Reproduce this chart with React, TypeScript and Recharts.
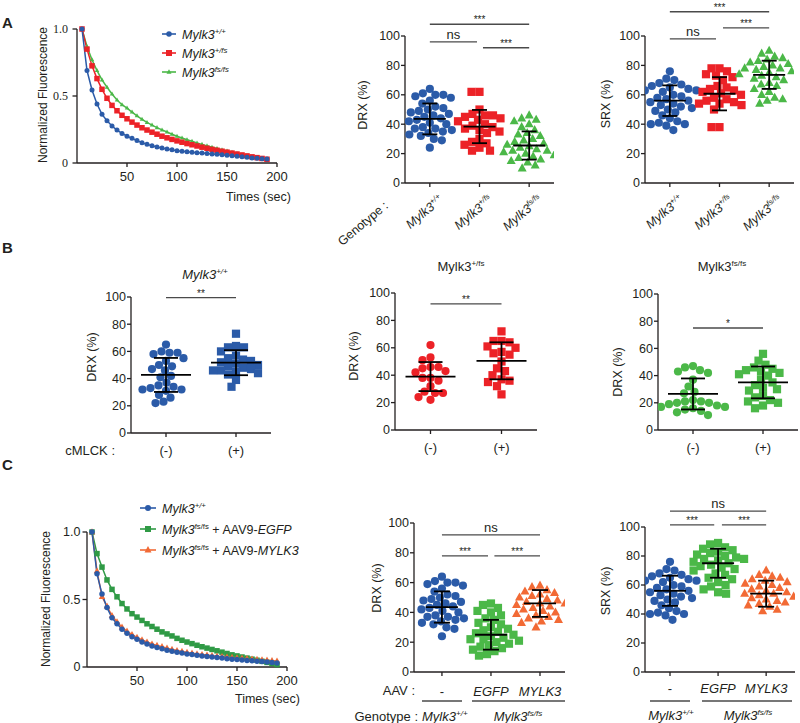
import React from 'react';
import {
  ScatterChart,
  Scatter,
  LineChart,
  Line,
  XAxis,
  YAxis,
  ReferenceLine,
  Legend,
} from 'recharts';

const SANS = '"Liberation Sans", Arial, Helvetica, sans-serif';
const SERIF = '"Liberation Serif", "Times New Roman", serif';
const INK = '#231f20';
const BLUE = '#2b5ba8';
const RED = '#ec2227';
const GREEN = '#4bb848';
const DKGREEN = '#2f9a45';
const ORANGE = '#f26a35';

// ---------- decay curves (A left, C left) ----------
const timeSec = [
  5, 10, 15, 20, 25, 30, 35, 40, 45, 50, 55, 60, 65, 70, 75, 80, 85, 90, 95, 100,
  105, 110, 115, 120, 125, 130, 135, 140, 145, 150, 155, 160, 165, 170, 175, 180, 185, 190,
];
const decayWtA = [
  1.0, 0.69, 0.545, 0.44, 0.363, 0.316, 0.276, 0.246, 0.221, 0.2, 0.184, 0.167, 0.152, 0.139,
  0.129, 0.119, 0.112, 0.104, 0.098, 0.092, 0.088, 0.084, 0.08, 0.077, 0.074, 0.071, 0.068,
  0.065, 0.062, 0.058, 0.054, 0.05, 0.046, 0.042, 0.038, 0.035, 0.032, 0.03,
];
const decayHetA = [
  1.0, 0.85, 0.725, 0.63, 0.55, 0.483, 0.43, 0.39, 0.356, 0.33, 0.305, 0.283, 0.263, 0.246,
  0.23, 0.215, 0.2, 0.188, 0.176, 0.165, 0.155, 0.145, 0.136, 0.127, 0.118, 0.11, 0.102, 0.095,
  0.088, 0.081, 0.074, 0.067, 0.06, 0.053, 0.046, 0.04, 0.034, 0.028,
];
const decayHomA = [
  1.0, 0.87, 0.77, 0.69, 0.62, 0.565, 0.515, 0.47, 0.435, 0.41, 0.38, 0.352, 0.326, 0.303,
  0.283, 0.264, 0.247, 0.231, 0.215, 0.2, 0.187, 0.174, 0.162, 0.15, 0.139, 0.128, 0.118, 0.108,
  0.098, 0.089, 0.08, 0.071, 0.062, 0.054, 0.046, 0.039, 0.032, 0.026,
];
const decayWtC = [
  1.0, 0.69, 0.54, 0.44, 0.365, 0.32, 0.28, 0.25, 0.225, 0.205, 0.185, 0.17, 0.155, 0.145,
  0.135, 0.125, 0.117, 0.11, 0.103, 0.097, 0.092, 0.087, 0.082, 0.078, 0.074, 0.07, 0.066,
  0.062, 0.058, 0.055, 0.052, 0.049, 0.046, 0.043, 0.04, 0.037, 0.034, 0.03,
];
const decayEgfpC = [
  1.0, 0.84, 0.74, 0.645, 0.575, 0.52, 0.47, 0.43, 0.395, 0.37, 0.345, 0.32, 0.3, 0.28, 0.26,
  0.245, 0.23, 0.212, 0.198, 0.185, 0.173, 0.161, 0.15, 0.14, 0.13, 0.12, 0.11, 0.1, 0.09,
  0.082, 0.074, 0.066, 0.058, 0.05, 0.042, 0.034, 0.026, 0.018,
];
const decayMylk3C = [
  1.0, 0.71, 0.52, 0.45, 0.38, 0.335, 0.295, 0.265, 0.24, 0.22, 0.2, 0.185, 0.17, 0.16, 0.15,
  0.14, 0.13, 0.122, 0.115, 0.108, 0.102, 0.097, 0.092, 0.088, 0.084, 0.08, 0.077, 0.074,
  0.071, 0.068, 0.065, 0.062, 0.059, 0.056, 0.053, 0.05, 0.047, 0.044,
];

// ---------- DRX / SRX per-animal values ----------
const drxWt = [64, 61, 60, 60, 59, 58, 56, 54, 52, 51, 50, 49, 48, 47, 46, 45, 44, 43, 42, 41, 40, 38, 37, 37, 36, 35, 34, 33, 32, 30, 29, 24];
const drxHet = [62, 62, 50, 47, 46, 46, 45, 44, 43, 42, 40, 39, 38, 37, 36, 35, 34, 30, 28, 27, 26, 24, 22, 22];
const drxHom = [46, 44, 43, 42, 40, 38, 36, 34, 33, 32, 30, 29, 28, 27, 26, 25, 24, 23, 22, 22, 21, 20, 19, 18, 17, 16, 15, 14, 12, 10];
const srxWt = [76, 71, 70, 68, 67, 66, 65, 64, 63, 63, 62, 60, 59, 58, 57, 56, 55, 54, 53, 52, 51, 50, 49, 48, 46, 44, 42, 41, 40, 40, 39, 36];
const srxHet = [78, 78, 76, 74, 73, 72, 70, 66, 65, 64, 63, 62, 61, 60, 58, 57, 56, 55, 54, 54, 53, 50, 38, 38];
const srxHom = [90, 88, 86, 85, 84, 83, 82, 81, 80, 79, 78, 78, 77, 76, 75, 74, 73, 72, 71, 70, 68, 67, 66, 64, 62, 60, 58, 57, 56, 54];
const drxAMean = [43.6, 38.4, 25.5];
const drxASd = [10.5, 11.3, 9.6];
const srxAMean = [56, 60.7, 73.6];
const srxASd = [10.4, 11.3, 9.6];

const drxWtMinus = [65, 60, 59, 59, 58, 55, 53, 50, 49, 47, 46, 42, 41, 37, 35, 34, 33, 32, 32, 31, 28, 26, 23, 22];
const drxWtPlus = [73, 64, 63, 63, 60, 57, 55, 54, 53, 52, 51, 50, 49, 48, 47, 46, 46, 45, 44, 43, 39, 34];
const drxHetMinus = [62, 53, 51, 46, 46, 45, 43, 42, 38, 38, 36, 32, 28, 27, 27, 24, 22];
const drxHetPlus = [72, 65, 65, 64, 61, 60, 57, 56, 55, 50, 45, 43, 40, 37, 36, 35, 32, 26];
const drxHomMinus = [47, 46, 44, 43, 42, 37, 32, 28, 27, 22, 21, 21, 20, 20, 19, 18, 17, 17, 16, 15, 14, 13, 11];
const drxHomPlus = [56, 51, 48, 46, 45, 44, 43, 42, 41, 40, 37, 35, 33, 31, 30, 29, 25, 24, 22, 21, 20, 18, 16];
const bWtMean = [42.7, 51.7];
const bWtSd = [12.5, 9.2];
const bHetMean = [39, 50.5];
const bHetSd = [10.6, 13.5];
const bHomMean = [26.5, 35];
const bHomSd = [11.4, 11.7];

const drxEgfp = [46, 45, 43, 41, 40, 38, 36, 35, 33, 32, 30, 29, 28, 27, 26, 25, 24, 23, 22, 22, 21, 20, 19, 18, 17, 16, 15, 14, 12, 11];
const drxMylk3 = [58, 57, 55, 54, 53, 52, 51, 50, 49, 48, 47, 46, 46, 45, 44, 43, 42, 41, 40, 39, 38, 37, 36, 35, 34, 33, 30];
const srxEgfp = [89, 88, 86, 85, 84, 83, 82, 81, 80, 79, 78, 78, 77, 76, 75, 74, 73, 72, 71, 70, 68, 67, 65, 64, 62, 60, 59, 57, 55, 54];
const srxMylk3 = [70, 67, 66, 65, 64, 63, 62, 61, 60, 59, 58, 57, 56, 55, 54, 54, 53, 52, 51, 50, 49, 48, 47, 46, 45, 43, 42];
const drxCMean = [43.6, 25, 46];
const drxCSd = [10.5, 10, 9];
const srxCMean = [56, 75, 54];
const srxCSd = [10.4, 10, 9];

const genotypeSup = ['+/+', '+/fs', 'fs/fs'];
const mlckLabels = ['(-)', '(+)'];
const aavLabels = ['-', 'EGFP', 'MYLK3'];

// ---------- helpers ----------
type Mark = 'circle' | 'square' | 'triangle';
type Part = { t: string; it?: boolean; sup?: boolean };

function Rich({ parts, size }: { parts: Part[]; size: number }) {
  let shift = 0;
  return (
    <>
      {parts.map((p, i) => {
        const target = p.sup ? -size * 0.4 : 0;
        const dy = target - shift;
        shift = target;
        return (
          <tspan
            key={i}
            dy={dy !== 0 ? dy : undefined}
            fontSize={p.sup ? size * 0.62 : size}
            fontStyle={p.it ? 'italic' : 'normal'}
          >
            {p.t}
          </tspan>
        );
      })}
    </>
  );
}

function drawMark(kind: Mark, color: string, size: number, cx: number, cy: number, key?: any) {
  if (kind === 'circle') return <circle key={key} cx={cx} cy={cy} r={size / 2} fill={color} />;
  if (kind === 'square')
    return <rect key={key} x={cx - size / 2} y={cy - size / 2} width={size} height={size} fill={color} />;
  const h = size * 0.9;
  return (
    <polygon
      key={key}
      points={`${cx},${cy - h * 0.62} ${cx - size / 2},${cy + h * 0.38} ${cx + size / 2},${cy + h * 0.38}`}
      fill={color}
    />
  );
}

const markShape = (kind: Mark, color: string, size: number) => (p: any) => {
  if (p.cx == null || p.cy == null) return <g />;
  return drawMark(kind, color, size, p.cx, p.cy);
};

// horizontal dash centred on a point (mean line and SD caps)
const dashShape = (half: number) => (p: any) => (
  <line x1={p.cx - half} x2={p.cx + half} y1={p.cy} y2={p.cy} stroke="#000" strokeWidth={1.8} />
);

// simple beeswarm: spread points of similar value sideways (pixel offsets)
function swarm(values: number[], pxPerY: number, d: number): number[] {
  const placed: { x: number; y: number }[] = [];
  return values.map((v) => {
    const y = v * pxPerY;
    const near = placed.filter((p) => Math.abs(p.y - y) < d);
    let best = 0;
    for (let k = 0; k < 400; k++) {
      const step = Math.ceil(k / 2) * 0.5;
      const x = k % 2 === 0 ? step : -step;
      if (near.every((p) => (p.x - x) ** 2 + (p.y - y) ** 2 >= d * d)) {
        best = x;
        break;
      }
    }
    placed.push({ x: best, y });
    return best;
  });
}

// ---------- dot plot panel ----------
interface DotGroup { values: number[]; mean: number; sd: number; color: string; mark: Mark }
interface SigBar { from: number; to: number; at: number; text: string }
interface DotLayout {
  x0: number; x1: number; yTop: number; yBot: number;
  domain: [number, number]; meanHalf: number; capHalf: number; xh: number;
}

const YW = 30;
const TOP = 50;
const RIGHT = 8;
const axisStyle = { stroke: INK, strokeWidth: 1.3 };

function DotPanel({ lay, groups, sigs, tick }: { lay: DotLayout; groups: DotGroup[]; sigs: SigBar[]; tick: any }) {
  const plotW = lay.x1 - lay.x0;
  const plotH = lay.yBot - lay.yTop;
  const pxX = plotW / (lay.domain[1] - lay.domain[0]);
  const pxY = plotH / 100;
  return (
    <div style={{ position: 'absolute', left: lay.x0 - YW, top: lay.yTop - TOP }}>
      <ScatterChart
        width={YW + plotW + RIGHT}
        height={TOP + plotH + lay.xh}
        margin={{ top: TOP, right: RIGHT, bottom: 0, left: 0 }}
      >
        <XAxis
          type="number"
          dataKey="x"
          domain={lay.domain}
          ticks={groups.map((_, i) => i + 1)}
          interval={0}
          allowDataOverflow
          height={lay.xh}
          tickSize={4}
          tickLine={axisStyle}
          axisLine={axisStyle}
          tick={tick}
        />
        <YAxis
          type="number"
          dataKey="y"
          domain={[0, 100]}
          ticks={[0, 20, 40, 60, 80, 100]}
          interval={0}
          allowDataOverflow
          width={YW}
          tickSize={4}
          tickMargin={1}
          tickLine={axisStyle}
          axisLine={axisStyle}
          tick={{ fill: INK, fontSize: 12.5, fontFamily: SANS }}
        />
        {sigs.map((s, i) => (
          <ReferenceLine
            key={`sig${i}`}
            segment={[{ x: s.from, y: s.at }, { x: s.to, y: s.at }]}
            ifOverflow="visible"
            stroke="#4a4a4a"
            strokeWidth={1.3}
            label={{
              value: s.text,
              position: 'top',
              offset: s.text === 'ns' ? 3 : 1,
              fontSize: s.text === 'ns' ? 13 : 10,
              fontFamily: SANS,
              fill: INK,
            }}
          />
        ))}
        {groups.map((g, i) => {
          const offs = swarm(g.values, pxY, 8);
          return (
            <Scatter
              key={`g${i}`}
              data={g.values.map((v, j) => ({ x: i + 1 + offs[j] / pxX, y: v }))}
              shape={markShape(g.mark, g.color, g.mark === 'triangle' ? 9 : 8.2)}
              isAnimationActive={false}
            />
          );
        })}
        {/* SD whiskers: two points joined by the series line, capped by dashes */}
        {groups.map((g, i) => (
          <Scatter
            key={`sd${i}`}
            data={[{ x: i + 1, y: g.mean - g.sd }, { x: i + 1, y: g.mean + g.sd }]}
            line={{ stroke: '#000', strokeWidth: 1.8 }}
            shape={dashShape(lay.capHalf)}
            isAnimationActive={false}
          />
        ))}
        <Scatter
          data={groups.map((g, i) => ({ x: i + 1, y: g.mean }))}
          shape={dashShape(lay.meanHalf)}
          isAnimationActive={false}
        />
      </ScatterChart>
    </div>
  );
}

function GenotypeTick(props: any) {
  const { x, y, payload } = props;
  const sup = genotypeSup[payload.value - 1];
  return (
    <g transform={`translate(${x + 14},${y + 12}) rotate(-40)`}>
      <text textAnchor="end" fontFamily={SANS} fill={INK}>
        <Rich parts={[{ t: 'Mylk3', it: true }, { t: sup, it: true, sup: true }]} size={12.5} />
      </text>
    </g>
  );
}

const textTick = (labels: string[], dy: number) => (props: any) => {
  const { x, y, payload } = props;
  const label = labels[payload.value - 1];
  return (
    <text
      x={x}
      y={y + dy}
      textAnchor="middle"
      fontFamily={SANS}
      fontSize={13}
      fontStyle={label.length > 3 ? 'italic' : 'normal'}
      fill={INK}
    >
      {label}
    </text>
  );
};

// ---------- decay panel ----------
interface Series { key: string; color: string; mark: Mark; size: number; parts: Part[] }
interface LineLayout { x0: number; x1: number; yTop: number; yBot: number; legendX: number; legendY: number; legendGap: number; textX: number }

const LYW = 40;
const LTOP = 30;

function DecayPanel({ lay, rows, series, order, yTick }: { lay: LineLayout; rows: any[]; series: Series[]; order: number[]; yTick: any }) {
  const plotW = lay.x1 - lay.x0;
  const plotH = lay.yBot - lay.yTop;
  const left = lay.x0 - LYW;
  const top = lay.yTop - LTOP;
  const legend = () => (
    <svg width={175} height={series.length * lay.legendGap + 4} style={{ overflow: 'visible' }}>
      {series.map((s, i) => {
        const cy = 8 + i * lay.legendGap;
        return (
          <g key={s.key}>
            <line x1={0} x2={lay.textX - 6} y1={cy} y2={cy} stroke={s.color} strokeWidth={1.6} />
            {drawMark(s.mark, s.color, s.size + 0.5, (lay.textX - 6) / 2, cy)}
            <text x={lay.textX} y={cy + 4.5} fontFamily={SANS} fill={INK}>
              <Rich parts={s.parts} size={12.5} />
            </text>
          </g>
        );
      })}
    </svg>
  );
  return (
    <div style={{ position: 'absolute', left, top }}>
      <LineChart
        width={LYW + plotW + 15}
        height={LTOP + plotH + 32}
        data={rows}
        margin={{ top: LTOP, right: 15, bottom: 0, left: 0 }}
      >
        <XAxis
          type="number"
          dataKey="t"
          domain={[0, 200]}
          ticks={[50, 100, 150, 200]}
          interval={0}
          allowDataOverflow
          height={32}
          tickSize={4}
          tickMargin={5}
          tickLine={axisStyle}
          axisLine={axisStyle}
          tick={{ fill: INK, fontSize: 13, fontFamily: SANS }}
        />
        <YAxis
          type="number"
          domain={[0, 1]}
          ticks={[0, 0.5, 1]}
          interval={0}
          width={LYW}
          tickSize={4.5}
          tickMargin={yTick.margin}
          tickLine={axisStyle}
          axisLine={axisStyle}
          tickFormatter={(v: number) => (v === 0 ? '0' : v.toFixed(1))}
          tick={{ fill: INK, fontSize: yTick.size, fontFamily: yTick.font }}
        />
        {order.map((idx) => {
          const s = series[idx];
          return (
            <Line
              key={s.key}
              type="linear"
              dataKey={s.key}
              stroke={s.color}
              strokeWidth={1.5}
              isAnimationActive={false}
              dot={(p: any) => drawMark(s.mark, s.color, s.size, p.cx, p.cy, `${s.key}${p.index}`)}
              activeDot={false}
            />
          );
        })}
        <Legend
          layout="vertical"
          align="center"
          verticalAlign="middle"
          content={legend}
          wrapperStyle={{ left: lay.legendX - left, top: lay.legendY - 8 - top, width: 175, height: 70 }}
        />
      </LineChart>
    </div>
  );
}

const rowsA = timeSec.map((t, i) => ({ t, wt: decayWtA[i], het: decayHetA[i], hom: decayHomA[i] }));
const rowsC = timeSec.map((t, i) => ({ t, wt: decayWtC[i], egfp: decayEgfpC[i], mylk3: decayMylk3C[i] }));

const seriesA: Series[] = [
  { key: 'wt', color: BLUE, mark: 'circle', size: 5, parts: [{ t: 'Mylk3', it: true }, { t: '+/+', it: true, sup: true }] },
  { key: 'het', color: RED, mark: 'square', size: 5.5, parts: [{ t: 'Mylk3', it: true }, { t: '+/fs', it: true, sup: true }] },
  { key: 'hom', color: GREEN, mark: 'triangle', size: 4.5, parts: [{ t: 'Mylk3', it: true }, { t: 'fs/fs', it: true, sup: true }] },
];
const seriesC: Series[] = [
  { key: 'wt', color: BLUE, mark: 'circle', size: 5.5, parts: [{ t: 'Mylk3', it: true }, { t: '+/+', it: true, sup: true }] },
  {
    key: 'egfp', color: DKGREEN, mark: 'square', size: 5.5,
    parts: [{ t: 'Mylk3', it: true }, { t: 'fs/fs', sup: true }, { t: ' + AAV9-' }, { t: 'EGFP', it: true }],
  },
  {
    key: 'mylk3', color: ORANGE, mark: 'triangle', size: 6.5,
    parts: [{ t: 'Mylk3', it: true }, { t: 'fs/fs', sup: true }, { t: ' + AAV9-' }, { t: 'MYLK3', it: true }],
  },
];

const groupsOf = (vals: number[][], means: number[], sds: number[], colors: string[], marks: Mark[]): DotGroup[] =>
  vals.map((v, i) => ({ values: v, mean: means[i], sd: sds[i], color: colors[i], mark: marks[i] }));

// ---------- annotation text ----------
function T({ x, y, children, size = 12.5, anchor = 'start', rot, weight, italic }: any) {
  return (
    <text
      x={rot ? 0 : x}
      y={rot ? 0 : y}
      transform={rot ? `translate(${x},${y}) rotate(${rot})` : undefined}
      fontFamily={SANS}
      fontSize={size}
      textAnchor={anchor}
      fontWeight={weight}
      fontStyle={italic ? 'italic' : undefined}
      fill={INK}
    >
      {children}
    </text>
  );
}

const sup = (base: string, s: string, it = true): Part[] => [{ t: base, it }, { t: s, it, sup: true }];

export default function App() {
  return (
    <div
      style={{
        position: 'absolute', left: 0, top: 0, width: 800, height: 723,
        background: '#fff', fontFamily: SANS, overflow: 'hidden',
      }}
    >
      {/* A */}
      <DecayPanel
        lay={{ x0: 77, x1: 277, yTop: 29, yBot: 163, legendX: 162, legendY: 34, legendGap: 19, textX: 20 }}
        rows={rowsA}
        series={seriesA}
        order={[2, 1, 0]}
        yTick={{ font: SERIF, size: 12, margin: 4.5 }}
      />
      <DotPanel
        lay={{ x0: 405, x1: 554, yTop: 36, yBot: 183, domain: [0.5, 3.5], meanHalf: 16, capHalf: 7.5, xh: 50 }}
        groups={groupsOf([drxWt, drxHet, drxHom], drxAMean, drxASd, [BLUE, RED, GREEN], ['circle', 'square', 'triangle'])}
        sigs={[
          { from: 1, to: 3, at: 108, text: '***' },
          { from: 1, to: 1.95, at: 96, text: 'ns' },
          { from: 2.07, to: 3, at: 92, text: '***' },
        ]}
        tick={GenotypeTick}
      />
      <DotPanel
        lay={{ x0: 645, x1: 794, yTop: 36, yBot: 183, domain: [0.5, 3.5], meanHalf: 16, capHalf: 7.5, xh: 50 }}
        groups={groupsOf([srxWt, srxHet, srxHom], srxAMean, srxASd, [BLUE, RED, GREEN], ['circle', 'square', 'triangle'])}
        sigs={[
          { from: 1, to: 3, at: 116.5, text: '***' },
          { from: 1, to: 1.93, at: 98, text: 'ns' },
          { from: 2.07, to: 3, at: 105.5, text: '***' },
        ]}
        tick={GenotypeTick}
      />

      {/* B */}
      <DotPanel
        lay={{ x0: 131, x1: 271, yTop: 297, yBot: 433, domain: [0.5, 2.5], meanHalf: 25, capHalf: 12, xh: 30 }}
        groups={groupsOf([drxWtMinus, drxWtPlus], bWtMean, bWtSd, [BLUE, BLUE], ['circle', 'square'])}
        sigs={[{ from: 1, to: 2, at: 99.5, text: '**' }]}
        tick={textTick(mlckLabels, 16)}
      />
      <DotPanel
        lay={{ x0: 395, x1: 537, yTop: 293, yBot: 430, domain: [0.5, 2.5], meanHalf: 25, capHalf: 12, xh: 30 }}
        groups={groupsOf([drxHetMinus, drxHetPlus], bHetMean, bHetSd, [RED, RED], ['circle', 'square'])}
        sigs={[{ from: 1, to: 2, at: 92, text: '**' }]}
        tick={textTick(mlckLabels, 16)}
      />
      <DotPanel
        lay={{ x0: 658, x1: 798, yTop: 294, yBot: 430, domain: [0.5, 2.5], meanHalf: 25, capHalf: 12, xh: 30 }}
        groups={groupsOf([drxHomMinus, drxHomPlus], bHomMean, bHomSd, [GREEN, GREEN], ['circle', 'square'])}
        sigs={[{ from: 1, to: 2, at: 75, text: '*' }]}
        tick={textTick(mlckLabels, 16)}
      />

      {/* C */}
      <DecayPanel
        lay={{ x0: 87, x1: 287, yTop: 532, yBot: 667, legendX: 140, legendY: 508, legendGap: 21, textX: 22 }}
        rows={rowsC}
        series={seriesC}
        order={[1, 2, 0]}
        yTick={{ font: SANS, size: 12.5, margin: 2 }}
      />
      <DotPanel
        lay={{ x0: 414, x1: 565, yTop: 523, yBot: 672, domain: [0.43, 3.51], meanHalf: 16, capHalf: 8, xh: 30 }}
        groups={groupsOf([drxWt, drxEgfp, drxMylk3], drxCMean, drxCSd, [BLUE, GREEN, ORANGE], ['circle', 'square', 'triangle'])}
        sigs={[
          { from: 1, to: 3, at: 92, text: 'ns' },
          { from: 1, to: 1.94, at: 78, text: '***' },
          { from: 2.07, to: 3, at: 78, text: '***' },
        ]}
        tick={textTick(aavLabels, 18)}
      />
      <DotPanel
        lay={{ x0: 645, x1: 795, yTop: 527, yBot: 672, domain: [0.48, 3.6], meanHalf: 16, capHalf: 8, xh: 30 }}
        groups={groupsOf([srxWt, srxEgfp, srxMylk3], srxCMean, srxCSd, [BLUE, GREEN, ORANGE], ['circle', 'square', 'triangle'])}
        sigs={[
          { from: 1, to: 3, at: 111, text: 'ns' },
          { from: 1, to: 1.92, at: 101.4, text: '***' },
          { from: 2.08, to: 3, at: 101.4, text: '***' },
        ]}
        tick={textTick(aavLabels, 15)}
      />

      {/* annotations */}
      <svg width={800} height={723} style={{ position: 'absolute', left: 0, top: 0, pointerEvents: 'none' }}>
        <T x={2} y={28} size={15} weight="bold">A</T>
        <T x={2} y={253} size={15} weight="bold">B</T>
        <T x={2} y={470} size={15} weight="bold">C</T>

        <T x={46.5} y={95} size={12} anchor="middle" rot={-90}>Normalized Fluorescence</T>
        <T x={226} y={201}>Times (sec)</T>
        <T x={367} y={105} anchor="middle" rot={-90}>DRX (%)</T>
        <T x={610} y={104} anchor="middle" rot={-90}>SRX (%)</T>
        <T x={389} y={207} anchor="end" rot={-40}>Genotype :</T>

        <T x={205} y={279} size={13} anchor="middle"><Rich parts={sup('Mylk3', '+/+')} size={13} /></T>
        <T x={461} y={271} size={13} anchor="middle"><Rich parts={sup('Mylk3', '+/fs', false)} size={13} /></T>
        <T x={722} y={271} size={13} anchor="middle"><Rich parts={sup('Mylk3', 'fs/fs', false)} size={13} /></T>
        <T x={96} y={357} anchor="middle" rot={-90}>DRX (%)</T>
        <T x={358} y={356} anchor="middle" rot={-90}>DRX (%)</T>
        <T x={622} y={372} anchor="middle" rot={-90}>DRX (%)</T>
        <T x={115} y={455} size={13} anchor="end">cMLCK :</T>

        <T x={49.5} y={599} size={12} anchor="middle" rot={-90}>Normalized Fluorescence</T>
        <T x={235} y={703}>Times (sec)</T>
        <T x={381} y={588} anchor="middle" rot={-90}>DRX (%)</T>
        <T x={610} y={591} anchor="middle" rot={-90}>SRX (%)</T>
        <T x={415} y={695} size={13} anchor="end">AAV :</T>
        <g stroke="#4a4a4a" strokeWidth={1.3}>
          <line x1={422} x2={462} y1={701} y2={701} />
          <line x1={472} x2={565} y1={701} y2={701} />
          <line x1={650} x2={690} y1={701} y2={701} />
          <line x1={702} x2={792} y1={701} y2={701} />
        </g>
        <T x={418} y={721} size={13} anchor="end">Genotype :</T>
        <T x={422} y={721} size={13}><Rich parts={sup('Mylk3', '+/+')} size={13} /></T>
        <T x={518} y={721} size={13} anchor="middle"><Rich parts={sup('Mylk3', 'fs/fs')} size={13} /></T>
        <T x={671} y={720} size={13} anchor="middle"><Rich parts={sup('Mylk3', '+/+')} size={13} /></T>
        <T x={748} y={720} size={13} anchor="middle"><Rich parts={sup('Mylk3', 'fs/fs')} size={13} /></T>
      </svg>
    </div>
  );
}
